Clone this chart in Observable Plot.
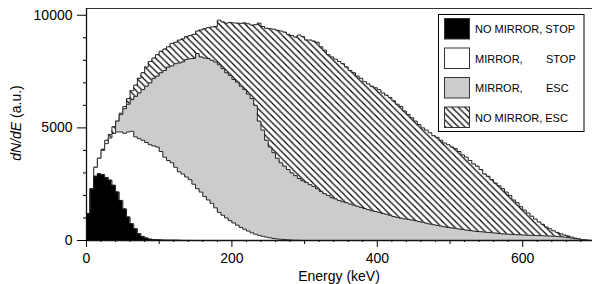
<!DOCTYPE html>
<html><head><meta charset="utf-8">
<script src="https://cdn.jsdelivr.net/npm/d3@7"></script>
<script src="https://cdn.jsdelivr.net/npm/@observablehq/plot@0.6"></script>
<style>
html,body{margin:0;padding:0;background:#fff;}
#chart{width:592px;height:284px;overflow:hidden;}
</style></head><body><div id="chart"></div>
<script>
// ---- data (5 keV bins, bin start = index * binWidth) ----
const binWidth = 5;
const noMirrorStop = [
  1200, 2280, 2850, 2960, 2930, 2800, 2680, 2450, 2150, 1780,
  1400, 1040, 740, 520, 300, 180, 110, 60, 45, 30,
  20, 15, 12, 10, 8, 6, 5, 4, 3, 2
];
const mirrorStop = [
  1200, 2300, 3250, 3650, 4000, 4300, 4550, 4750, 4820, 4820,
  4760, 4820, 4850, 4600, 4520, 4450, 4350, 4250, 4200, 4150,
  3950, 3700, 3550, 3450, 3250, 3050, 2950, 2820, 2700, 2500,
  2300, 2150, 1950, 1800, 1650, 1450, 1250, 1120, 1000, 880,
  780, 680, 580, 500, 420, 340, 280, 230, 190, 150,
  120, 90, 70, 55, 40, 30, 20, 10, 5
];
const mirrorEsc = [
  1000, 2000, 2800, 3200, 3600, 3900, 4200, 4600, 5300, 5600,
  5850, 6050, 6250, 6400, 6550, 6700, 6850, 7000, 7200, 7300,
  7450, 7550, 7700, 7750, 7850, 7880, 7930, 8040, 8070, 8080,
  8300, 8150, 8100, 8080, 8000, 7920, 7800, 7630, 7450, 7330,
  7150, 7030, 6850, 6700, 6500, 6300, 6000, 5300, 4900, 4450,
  4150, 3900, 3650, 3450, 3300, 3150, 3000, 2880, 2750, 2650,
  2580, 2480, 2400, 2300, 2180, 2080, 2000, 1900, 1850, 1780,
  1720, 1680, 1620, 1570, 1520, 1470, 1420, 1370, 1320, 1290,
  1250, 1200, 1170, 1120, 1060, 1030, 990, 960, 940, 910,
  880, 840, 810, 770, 730, 700, 670, 640, 610, 580,
  560, 540, 510, 490, 460, 440, 420, 400, 390, 375,
  360, 345, 330, 310, 295, 285, 275, 265, 255, 250,
  240, 235, 228, 222, 218, 212, 205, 198, 190, 180,
  165, 150, 130, 110, 85, 60, 35, 15, 5
];
const noMirrorEsc = [
  1200, 2300, 3250, 3650, 4050, 4450, 4700, 5050, 5300, 5650,
  5950, 6300, 6650, 6900, 7200, 7450, 7700, 7950, 8100, 8250,
  8400, 8500, 8600, 8750, 8800, 8900, 8950, 9050, 9100, 9150,
  9300, 9350, 9400, 9450, 9480, 9500, 9780, 9700, 9650, 9680,
  9660, 9650, 9640, 9660, 9620, 9560, 9580, 9650, 9500, 9420,
  9400, 9380, 9330, 9300, 9250, 9150, 9100, 9030, 9120, 9050,
  8900, 8900, 8850, 8800, 8600, 8450, 8250, 8150, 8050, 7950,
  7850, 7700, 7550, 7450, 7300, 7200, 7050, 6950, 6850, 6780,
  6700, 6550, 6450, 6350, 6200, 6050, 5950, 5750, 5600, 5450,
  5300, 5150, 5000, 4900, 4780, 4650, 4580, 4450, 4330, 4250,
  4150, 4080, 3950, 3800, 3700, 3550, 3400, 3300, 3150, 2950,
  2850, 2700, 2550, 2430, 2300, 2150, 2000, 1800, 1680, 1500,
  1350, 1220, 1080, 950, 820, 720, 600, 520, 430, 360,
  300, 240, 200, 150, 100, 70, 40, 20, 5
];
const xMajorTicks = [0, 200, 400, 600];
const xMediumTicks = [100, 300, 500];
const xMinorTicks = [20,40,60,80,120,140,160,180,220,240,260,280,320,340,360,380,420,440,460,480,520,540,560,580,620,640,660,680];
const yMajorTicks = [0, 5000, 10000];
const yMinorTicks = [1000,2000,3000,4000,6000,7000,8000,9000];
const xDomain = [0, 696];
const yDomain = [0, 10300];
const xLabel = "Energy (keV)";
const yLabelItalic = "dN/dE";
const yLabelRest = " (a.u.)";
const legendItems = [
  {label: "NO MIRROR, STOP", right: "", fill: "black"},
  {label: "MIRROR,", right: "STOP", fill: "white"},
  {label: "MIRROR,", right: "ESC", fill: "#cccccc"},
  {label: "NO MIRROR, ESC", right: "", fill: "url(#hatch)"}
];

// ---- helpers ----
const FONT = "'Liberation Sans', Arial, Helvetica, sans-serif";
const ns = "http://www.w3.org/2000/svg";
function el(tag, attrs = {}, text) {
  const e = document.createElementNS(ns, tag);
  for (const [k, v] of Object.entries(attrs)) e.setAttribute(k, v);
  if (text != null) e.textContent = text;
  return e;
}
function toPoints(vals) {
  const pts = vals.map((v, i) => ({e: i * binWidth, v}));
  pts.push({e: vals.length * binWidth, v: 0});
  return pts;
}
const series = [
  {data: toPoints(noMirrorEsc), fill: "url(#hatch)"},
  {data: toPoints(mirrorEsc), fill: "#cccccc"},
  {data: toPoints(mirrorStop), fill: "white"},
  {data: toPoints(noMirrorStop), fill: "black"}
];

const defsMark = () => {
  const defs = el("defs");
  const s = 6.5;
  const pat = el("pattern", {id: "hatch", patternUnits: "userSpaceOnUse", width: s, height: s});
  pat.append(el("rect", {width: s, height: s, fill: "white"}));
  pat.append(el("path", {d: `M0,0L${s},${s}M-1,${s-1}L1,${s+1}M${s-1},-1L${s+1},1`, stroke: "black", "stroke-width": 1.15}));
  defs.append(pat);
  return defs;
};
const legendMark = () => {
  const g = el("g", {"font-family": FONT, "font-size": 11, fill: "black", "text-anchor": "start"});
  g.append(el("rect", {x: 438.5, y: 14.5, width: 145.5, height: 117, fill: "white", stroke: "black", "stroke-width": 1}));
  legendItems.forEach((d, i) => {
    const y0 = 18.5 + i * 29.5;
    g.append(el("rect", {x: 444.5, y: y0, width: 25, height: 20.5, fill: d.fill, stroke: "#333", "stroke-width": 1}));
    g.append(el("text", {x: 475, y: y0 + 14.7}, d.label));
    if (d.right) g.append(el("text", {x: 546, y: y0 + 14.7}, d.right));
  });
  return g;
};
const labelsMark = (index, scales, values, dims) => {
  const g = el("g", {"font-family": FONT, "font-size": 14, fill: "black"});
  const cx = (dims.marginLeft + dims.width - dims.marginRight) / 2;
  g.append(el("text", {x: cx, y: 281, "text-anchor": "middle"}, xLabel));
  const t = el("text", {transform: "translate(21,123) rotate(-90)", "text-anchor": "middle"});
  t.append(el("tspan", {"font-style": "italic"}, yLabelItalic));
  t.append(el("tspan", {}, yLabelRest));
  g.append(t);
  return g;
};

const marks = [defsMark];
for (const s of series) {
  marks.push(Plot.areaY(s.data, {x: "e", y: "v", curve: "step-after", fill: s.fill}));
  marks.push(Plot.lineY(s.data, {x: "e", y: "v", curve: "step-after", stroke: "#222", strokeWidth: 1}));
}
marks.push(
  Plot.ruleY([yDomain[1]], {stroke: "#333", strokeWidth: 1}),
  Plot.ruleX([0], {stroke: "#111", strokeWidth: 1.3}),
  Plot.ruleY([0], {stroke: "#111", strokeWidth: 1.3}),
  Plot.axisX({ticks: xMinorTicks, tickSize: 2, tickFormat: () => "", label: null}),
  Plot.axisX({ticks: xMediumTicks, tickSize: 4, tickFormat: () => "", label: null}),
  Plot.axisX({ticks: xMajorTicks, tickSize: 7, tickPadding: 6, tickFormat: d3.format("d"), label: null, fontSize: 14}),
  Plot.axisY({ticks: yMinorTicks, tickSize: 3, tickFormat: () => "", label: null}),
  Plot.axisY({ticks: yMajorTicks, tickSize: 9, tickPadding: 5, tickFormat: d3.format("d"), label: null, fontSize: 14}),
  legendMark,
  labelsMark
);

const chart = Plot.plot({
  width: 592,
  height: 284,
  marginLeft: 86,
  marginRight: 0,
  marginTop: 8,
  marginBottom: 44,
  x: {domain: xDomain},
  y: {domain: yDomain},
  style: {fontFamily: FONT, fontSize: "14px", background: "white", color: "black"},
  marks
});
document.getElementById("chart").append(chart);
</script>
</body></html>
